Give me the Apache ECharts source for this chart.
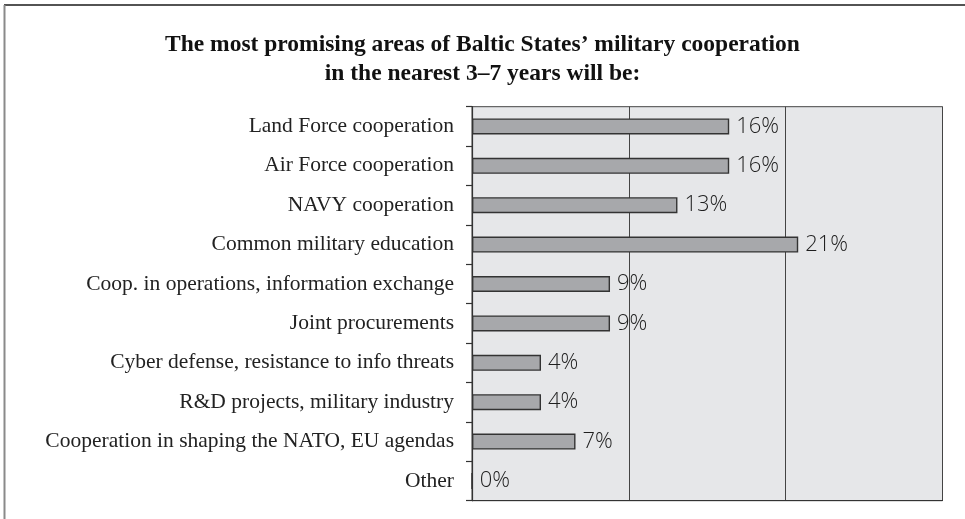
<!DOCTYPE html>
<html>
<head>
<meta charset="utf-8">
<script src="https://cdn.jsdelivr.net/npm/echarts@6/dist/echarts.min.js"></script>
<style>html,body{margin:0;padding:0;background:#fff;}#c{width:965px;height:519px;}</style>
</head>
<body>
<div id="c"></div>
<script>
const titleText = "The most promising areas of Baltic States’ military cooperation\nin the nearest 3–7 years will be:";
const categories = [
  "Land Force cooperation",
  "Air Force cooperation",
  "NAVY cooperation",
  "Common military education",
  "Coop. in operations, information exchange",
  "Joint procurements",
  "Cyber defense, resistance to info threats",
  "R&D projects, military industry",
  "Cooperation in shaping the NATO, EU agendas",
  "Other"
];
const values = [16.4, 16.4, 13.1, 20.8, 8.8, 8.8, 4.4, 4.4, 6.6, 0];
const axisMin = 0, axisMax = 30, axisStep = 10;

const chart = echarts.init(document.getElementById('c'), null, {renderer: 'canvas'});
chart.setOption({
  animation: false,
  backgroundColor: '#ffffff',
  title: {
    text: titleText,
    left: 'center',
    top: 25,
    textStyle: {
      fontFamily: 'Liberation Serif',
      fontWeight: 'bold',
      fontSize: 23.5,
      lineHeight: 29,
      color: '#111'
    }
  },
  graphic: [
    {type: 'line', shape: {x1: 4, y1: 5, x2: 965, y2: 5}, style: {stroke: '#1a1a1a', lineWidth: 1.5}},
    {type: 'line', shape: {x1: 4.5, y1: 5, x2: 4.5, y2: 519}, style: {stroke: '#8a8a8a', lineWidth: 2}}
  ],
  grid: {
    left: 472, right: 22.5, top: 106.7, bottom: 18.3,
    show: true,
    backgroundColor: '#e6e7e9',
    borderColor: '#444',
    borderWidth: 1
  },
  xAxis: {
    type: 'value',
    min: axisMin, max: axisMax, interval: axisStep,
    axisLabel: {show: false},
    axisTick: {show: false},
    axisLine: {show: true, lineStyle: {color: '#333', width: 1.2}},
    splitLine: {show: true, lineStyle: {color: '#444', width: 1}}
  },
  yAxis: {
    type: 'category',
    data: categories,
    inverse: true,
    axisLine: {show: true, lineStyle: {color: '#333', width: 1.2}},
    axisTick: {show: true, length: 6, inside: false, alignWithLabel: false, lineStyle: {color: '#333', width: 1.2}},
    axisLabel: {
      margin: 18,
      fontFamily: 'Liberation Serif',
      fontSize: 21.5,
      color: '#222'
    },
    splitLine: {show: false}
  },
  series: [{
    type: 'bar',
    data: values,
    barWidth: 16,
    itemStyle: {color: '#a7a8ab', borderColor: '#333', borderWidth: 1.4},
    label: {
      show: true,
      position: 'right',
      distance: 7,
      fontFamily: 'Open Sans',
      fontWeight: 300,
      fontSize: 22,
      color: '#1e1e1e',
      formatter: p => Math.round(p.value) + '%'
    }
  }]
});
</script>
</body>
</html>
